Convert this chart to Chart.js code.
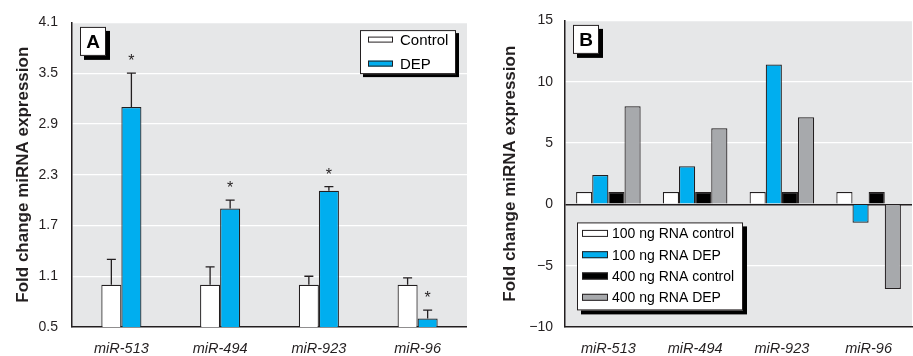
<!DOCTYPE html>
<html>
<head>
<meta charset="utf-8">
<script src="https://cdn.jsdelivr.net/npm/chart.js@4.4.0/dist/chart.umd.min.js"></script>
<style>
  body { margin: 0; background: #fff; }
  #wrapA { position: absolute; left: 0; top: 0; width: 467px; height: 356px; }
  #wrapB { position: absolute; left: 467px; top: 0; width: 446px; height: 356px; }
</style>
</head>
<body>
<div id="wrapA"><canvas id="chartA"></canvas></div>
<div id="wrapB"><canvas id="chartB"></canvas></div>
<script>
var categories = ['miR-513', 'miR-494', 'miR-923', 'miR-96'];

// panel A
var controlA = [1.0, 1.0, 1.0, 1.0];
var controlErrA = [0.3, 0.21, 0.1, 0.08];
var depA = [3.1, 1.9, 2.11, 0.6];
var depErrA = [0.4, 0.1, 0.05, 0.1];
var depSigA = [true, true, true, true];
var yTicksA = [0.5, 1.1, 1.7, 2.3, 2.9, 3.5, 4.1];

// panel B
var control100 = [1, 1, 1, 1];
var dep100 = [2.4, 3.1, 11.4, -1.5];
var control400 = [1, 1, 1, 1];
var dep400 = [8.0, 6.2, 7.1, -6.9];
var yTicksB = [-10, -5, 0, 5, 10, 15];

var sans = '"Liberation Sans", Arial, sans-serif';
var ink = '#231f20';

// grey plot background
var plotBg = {
    id: 'plotBg',
    beforeDraw: function(chart) {
        var a = chart.chartArea, c = chart.ctx;
        c.save();
        c.fillStyle = '#e6e7e8';
        c.fillRect(a.left, a.top, a.right - a.left, a.bottom - a.top);
        c.restore();
    }
};

// one-sided error bars + asterisks
var errorBars = {
    id: 'errorBars',
    afterDatasetsDraw: function(chart) {
        var c = chart.ctx, y = chart.scales.y;
        chart.data.datasets.forEach(function(ds, i) {
            if (!ds.errors) return;
            var meta = chart.getDatasetMeta(i);
            meta.data.forEach(function(bar, j) {
                var top = y.getPixelForValue(ds.data[j] + ds.errors[j]);
                c.save();
                c.strokeStyle = ink;
                c.lineWidth = 1.3;
                c.beginPath();
                c.moveTo(bar.x, bar.y);
                c.lineTo(bar.x, top);
                c.moveTo(bar.x - 4.5, top);
                c.lineTo(bar.x + 4.5, top);
                c.stroke();
                if (ds.sig && ds.sig[j]) {
                    c.fillStyle = ink;
                    c.font = '16px ' + sans;
                    c.textAlign = 'center';
                    c.textBaseline = 'alphabetic';
                    c.fillText('*', bar.x, top - 7);
                }
                c.restore();
            });
        });
    }
};

// panel letter box and boxed legend with drop shadow
var panelDeco = {
    id: 'panelDeco',
    afterDraw: function(chart, args, opts) {
        var c = chart.ctx, a = chart.chartArea;
        var bx = a.left + 8, by = a.top + 4.5, bw = 26, bh = 29;
        c.save();
        c.fillStyle = '#000';
        c.fillRect(bx + 4, by + 4, bw, bh);
        c.fillStyle = '#fff';
        c.fillRect(bx, by, bw, bh);
        c.strokeStyle = ink;
        c.lineWidth = 1;
        c.strokeRect(bx + 0.5, by + 0.5, bw - 1, bh - 1);
        c.fillStyle = '#000';
        c.font = 'bold 19px ' + sans;
        c.textAlign = 'center';
        c.textBaseline = 'middle';
        c.fillText(opts.letter, bx + bw / 2, by + bh / 2 + 1);

        var L = opts.legend;
        var lx = L.right !== undefined ? a.right - L.right - L.w : a.left + L.left;
        var ly = a.top + L.top;
        c.fillStyle = '#000';
        c.fillRect(lx + L.shadow, ly + L.shadow, L.w, L.h);
        c.fillStyle = '#fff';
        c.fillRect(lx, ly, L.w, L.h);
        c.strokeRect(lx + 0.5, ly + 0.5, L.w - 1, L.h - 1);
        c.font = L.fontSize + 'px ' + sans;
        c.textAlign = 'left';
        c.textBaseline = 'middle';
        chart.data.datasets.forEach(function(ds, i) {
            var ry = ly + L.firstRow + i * L.rowGap;
            var sx = lx + L.pad;
            c.fillStyle = ds.backgroundColor;
            c.fillRect(sx, ry - L.swatchH / 2, L.swatchW, L.swatchH);
            c.strokeRect(sx + 0.5, ry - L.swatchH / 2 + 0.5, L.swatchW - 1, L.swatchH - 1);
            c.fillStyle = '#000';
            c.fillText(ds.label, sx + L.swatchW + L.gap, ry + 1);
        });
        c.restore();
    }
};

function barSet(label, data, color, extra) {
    var ds = {
        label: label,
        data: data,
        backgroundColor: color,
        borderColor: ink,
        borderWidth: 1.2,
        borderSkipped: 'start'
    };
    for (var k in extra) ds[k] = extra[k];
    return ds;
}

function baseOptions(cfg) {
    return {
        responsive: true,
        maintainAspectRatio: false,
        animation: false,
        layout: { padding: { top: 20, right: cfg.padRight, left: 0, bottom: 0 } },
        datasets: { bar: { barPercentage: 1, categoryPercentage: cfg.catPct } },
        plugins: {
            legend: { display: false },
            tooltip: { enabled: false },
            panelDeco: { letter: cfg.letter, legend: cfg.legend }
        },
        scales: {
            x: {
                grid: { display: false, drawTicks: false },
                border: { color: ink, width: 1.5 },
                afterFit: function(s) { s.height = 29; },
                ticks: { color: ink, padding: 13, font: { family: sans, size: 14.5, style: 'italic' } }
            },
            y: {
                min: cfg.min,
                max: cfg.max,
                afterBuildTicks: function(s) {
                    s.ticks = cfg.ticks.map(function(v) { return { value: v }; });
                },
                afterFit: function(s) { s.width = cfg.axisWidth; },
                grid: {
                    drawTicks: false,
                    color: function(ctx) {
                        if (ctx.tick.value === cfg.min) return 'rgba(0,0,0,0)';
                        if (ctx.tick.value === 0) return ink;
                        return '#fff';
                    },
                    lineWidth: function(ctx) { return ctx.tick.value === 0 ? 1.5 : 1.2; }
                },
                border: { color: ink, width: 1.5 },
                ticks: {
                    color: ink,
                    padding: cfg.tickPad,
                    font: { family: sans, size: 14 },
                    callback: cfg.fmt
                },
                title: {
                    display: true,
                    text: 'Fold change miRNA expression',
                    color: ink,
                    font: { family: sans, size: 17, weight: 'bold' },
                    padding: { top: cfg.titlePad, bottom: 0 }
                }
            }
        }
    };
}

new Chart(document.getElementById('chartA').getContext('2d'), {
    type: 'bar',
    data: {
        labels: categories,
        datasets: [
            barSet('Control', controlA, '#ffffff', { errors: controlErrA }),
            barSet('DEP', depA, '#00aeef', { errors: depErrA, sig: depSigA })
        ]
    },
    options: baseOptions({
        letter: 'A', padRight: 0, catPct: 0.406, min: 0.5, max: 4.1, ticks: yTicksA,
        axisWidth: 72, tickPad: 14, titlePad: 13,
        fmt: function(v) { return v.toFixed(1); },
        legend: { right: 11, top: 7.7, w: 96, h: 44, shadow: 3, firstRow: 9.5, rowGap: 24,
                  pad: 8, swatchW: 25, swatchH: 6, gap: 7, fontSize: 15 }
    }),
    plugins: [plotBg, errorBars, panelDeco]
});

new Chart(document.getElementById('chartB').getContext('2d'), {
    type: 'bar',
    data: {
        labels: categories,
        datasets: [
            barSet('100 ng RNA control', control100, '#ffffff', {}),
            barSet('100 ng RNA DEP', dep100, '#00aeef', {}),
            barSet('400 ng RNA control', control400, '#000000', {}),
            barSet('400 ng RNA DEP', dep400, '#a7a9ac', {})
        ]
    },
    options: baseOptions({
        letter: 'B', padRight: 1, catPct: 0.744, min: -10, max: 15, ticks: yTicksB,
        axisWidth: 98, tickPad: 12, titlePad: 33,
        fmt: function(v) { return v < 0 ? '\u2212' + Math.abs(v) : String(v); },
        legend: { left: 12, top: 202, w: 166, h: 88, shadow: 4, firstRow: 11, rowGap: 21.3,
                  pad: 5, swatchW: 26, swatchH: 7, gap: 4, fontSize: 14 }
    }),
    plugins: [plotBg, errorBars, panelDeco]
});
</script>
</body>
</html>
